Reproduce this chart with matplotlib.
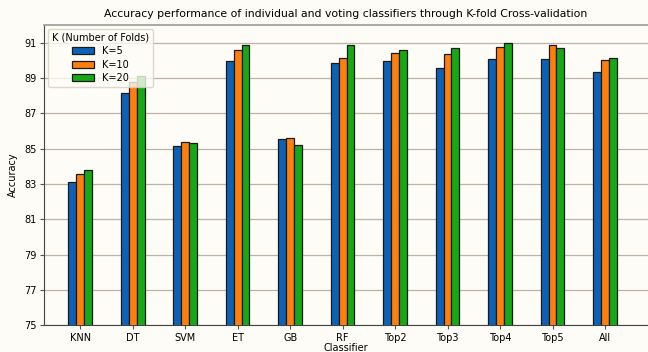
import numpy as np
import matplotlib
matplotlib.use("Agg")
import matplotlib.pyplot as plt

classifiers = ["KNN", "DT", "SVM", "ET", "GB", "RF", "Top2", "Top3", "Top4", "Top5", "All"]
k5 = [83.12, 88.15, 85.13, 89.95, 85.55, 89.84, 89.97, 89.58, 90.07, 90.07, 89.35]
k10 = [83.55, 88.75, 85.38, 90.59, 85.58, 90.14, 90.41, 90.37, 90.78, 90.88, 89.99]
k20 = [83.80, 89.12, 85.30, 90.84, 85.21, 90.88, 90.58, 90.69, 91.00, 90.72, 90.12]
series_labels = ["K=5", "K=10", "K=20"]
yticks = [75, 77, 79, 81, 83, 85, 87, 89, 91]

bg = "#fdfcf6"
colors = ["#0d62b8", "#ff7f0e", "#16a816"]

fig = plt.figure(figsize=(6.48, 3.52), dpi=100, facecolor=bg)
ax = fig.add_axes([0.068, 0.076, 0.932, 0.853])
ax.set_facecolor(bg)

x = np.arange(len(classifiers))
w = 0.15
for i, (vals, lab) in enumerate(zip([k5, k10, k20], series_labels)):
    ax.bar(x + (i - 1) * w, vals, width=w, color=colors[i], edgecolor="#1a1a1a",
           linewidth=0.9, label=lab, zorder=3)

ax.set_ylim(75, 92)
ax.set_xlim(-0.69, 10.82)
ax.set_yticks(yticks)
ax.set_xticks(x)
ax.set_xticklabels(classifiers)
ax.tick_params(labelsize=7, length=3, color="#555555", pad=2.5)
ax.grid(axis="y", color="#bdb4a6", linewidth=0.9, zorder=0)
for s in ["left", "bottom"]:
    ax.spines[s].set_color("#444444")
ax.spines["top"].set_color("#9a9a9a")
ax.spines["top"].set_linewidth(1.2)
ax.spines["right"].set_visible(False)

ax.set_title("Accuracy performance of individual and voting classifiers through K-fold Cross-validation",
             fontsize=7.8, pad=6)
ax.set_xlabel("Classifier", fontsize=7, labelpad=0)
ax.set_ylabel("Accuracy", fontsize=7, labelpad=4)

leg = ax.legend(title="K (Number of Folds)", loc="upper left", fontsize=7,
                title_fontsize=7, frameon=True, borderaxespad=0.4, handlelength=2.2,
                labelspacing=0.35)
leg.get_frame().set_facecolor(bg)
leg.get_frame().set_edgecolor("#d8cfc0")

fig.savefig("out.png", dpi=100, facecolor=bg)
